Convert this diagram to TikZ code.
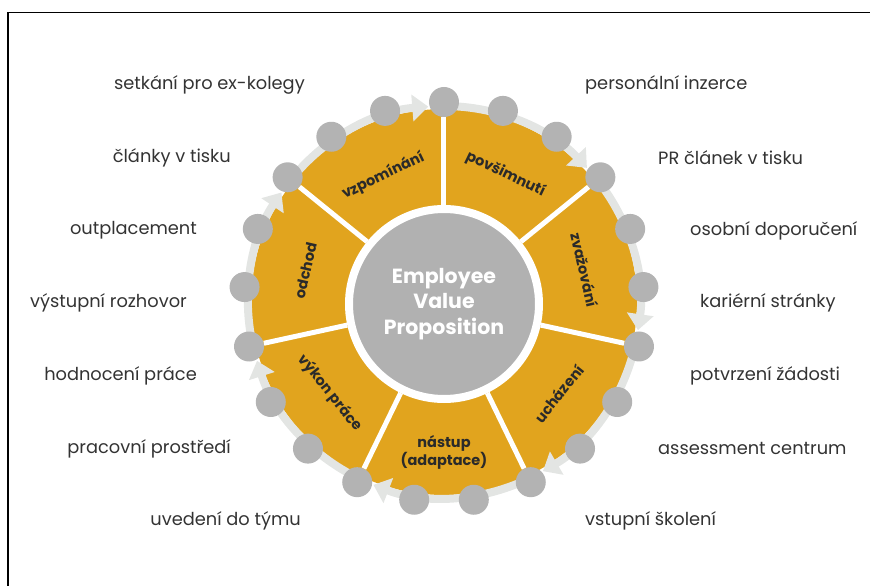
\documentclass[tikz,border=0pt]{standalone}
\usepackage{fontspec}
\setmainfont{Poppins}
\usetikzlibrary{arrows.meta}
\definecolor{evporange}{HTML}{E1A41E}
\definecolor{dotgray}{HTML}{B3B3B3}
\definecolor{centergray}{HTML}{B1B1B1}
\definecolor{ringgray}{HTML}{E3E5E3}
\definecolor{phasetext}{HTML}{2A2A2A}
\definecolor{itemtext}{HTML}{333333}
\begin{document}
\begin{tikzpicture}[x=1pt,y=1pt,
  dot/.style={circle,fill=dotgray,minimum size=30pt,inner sep=0pt},
  phase/.style={font=\fontsize{14.5}{16.5}\selectfont\bfseries,text=phasetext,align=center,inner sep=0pt},
  item/.style={font=\fontsize{17.8}{20}\selectfont,text=itemtext,inner sep=0pt},
  sep/.style={white,line width=5pt},
  ring/.style={draw=ringgray,line width=8pt,-{Triangle[width=26pt,length=16pt]}}]
\useasboundingbox (-444,302) rectangle (426,-284);
\draw[line width=1.5pt] (426,289.5) -- (-436,289.5) -- (-436,-284);
\fill[evporange] (0,0) circle (193);
\foreach \k in {0,...,6}
  \draw[ring] ({90-\k*360/7+360/7}:196)
    arc[start angle={90-\k*360/7+360/7},end angle={90-\k*360/7+4.6},radius=196];
\node[circle,fill=centergray,draw=white,line width=8pt,minimum size=190pt,
  text=white,align=center,font=\fontsize{20.5}{25.5}\selectfont\bfseries] (evp) at (0,-2)
  {Employee\\Value\\Proposition};
\foreach \i in {0,...,20}
  \node[dot] (d\i) at ({90-\i*360/21}:200) {};
\foreach \k [evaluate=\k as \j using int(3*\k)] in {0,...,6}
  \draw[sep] (evp) -- (d\j);
\foreach \a/\r/\d/\n/\t in {64.29/-25.71/142/povsimnuti/povšimnutí,
    12.86/-77.14/144/zvazovani/zvažování,
    -38.57/51.43/147/uchazeni/ucházení,
    -90/0/150/nastup/{nástup\\(adaptace)},
    -141.43/-51.43/146/vykon/výkon práce,
    167.14/77.14/142/odchod/odchod,
    115.71/25.71/140/vzpominani/vzpomínání}
  \node[phase,rotate=\r] (\n) at (\a:\d) {\t};
\foreach \x/\t [count=\i] in {-139/setkání pro ex-kolegy,-213/články v tisku,
    -247/outplacement,-257/výstupní rozhovor,-247/hodnocení práce,
    -213/pracovní prostředí,-143/uvedení do týmu}
  \node[item,anchor=east] (left\i) at (\x,{217-72.7*(\i-1)}) {\t};
\foreach \x/\t [count=\i] in {141/personální inzerce,214/PR článek v tisku,
    246/osobní doporučení,256/kariérní stránky,246/potvrzení žádosti,
    214/assessment centrum,141/vstupní školení}
  \node[item,anchor=west] (right\i) at (\x,{217-72.7*(\i-1)}) {\t};
\end{tikzpicture}
\end{document}
